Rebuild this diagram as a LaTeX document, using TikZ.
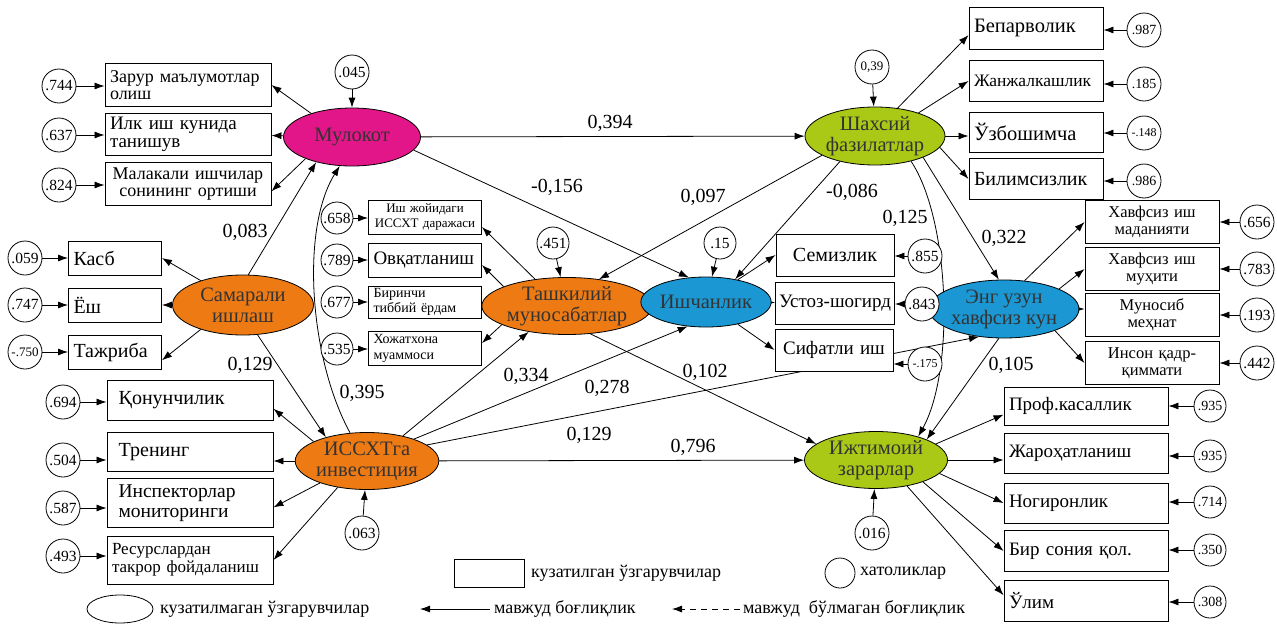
\documentclass[tikz,border=0pt]{standalone}
\usepackage{fontspec}
\setmainfont{Liberation Serif}
\usetikzlibrary{arrows.meta,shapes.geometric,backgrounds}

\definecolor{colMul}{RGB}{226,22,136}
\definecolor{colOrg}{RGB}{238,122,20}
\definecolor{colBlu}{RGB}{27,152,212}
\definecolor{colGrn}{RGB}{170,200,22}

\tikzset{
  lat/.style={ellipse, draw, line width=0.8pt, inner sep=0pt, align=center, text=black!80, font=\fontsize{20.5}{21}\selectfont},
  obs/.style={rectangle, draw, line width=0.9pt, fill=white, inner xsep=5pt, inner ysep=1pt, align=left, font=\fontsize{19}{19}\selectfont},
  err/.style={circle, draw, line width=0.8pt, fill=white, minimum size=34pt, inner sep=0pt, font=\fontsize{15.5}{15.5}\selectfont},
  arw/.style={-{Latex[length=10pt,width=7pt]}, line width=0.8pt},
  coef/.style={inner sep=0pt, font=\fontsize{20}{20}\selectfont},
  legtxt/.style={anchor=west, inner sep=0pt, font=\fontsize{18}{18}\selectfont}
}

\begin{document}
\begin{tikzpicture}[x=1pt,y=-1pt]
\useasboundingbox (0,0) rectangle (1277,624);

% latent variables
\node[lat, fill=colMul, minimum width=137pt, minimum height=58pt] (mul) at (352,137) {Мулокот};
\node[lat, fill=colOrg, minimum width=141pt, minimum height=60pt] (sam) at (243,305) {Самарали\\ишлаш};
\node[lat, fill=colOrg, minimum width=141pt, minimum height=57pt] (iss) at (367,461) {ИССХТга\\инвестиция};
\node[lat, fill=colOrg, minimum width=149pt, minimum height=57pt] (task) at (567,306) {Ташкилий\\муносабатлар};
\node[lat, fill=colBlu, minimum width=114pt, minimum height=50pt] (ish) at (706,302) {Ишчанлик};
\node[lat, fill=colGrn, minimum width=140pt, minimum height=58pt] (shah) at (875,136) {Шахсий\\фазилатлар};
\node[lat, fill=colBlu, minimum width=134pt, minimum height=58pt] (eng) at (1004,309) {Энг узун\\хавфсиз кун};
\node[lat, fill=colGrn, minimum width=143pt, minimum height=57pt] (izh) at (876,460) {Ижтимоий\\зарарлар};

% observed: Мулокот
\node[obs, text width=156pt, minimum height=43pt, font=\fontsize{18}{17.5}\selectfont] (zar) at (188,85) {Зарур маълумотлар\\олиш};
\node[obs, text width=156pt, minimum height=42pt, font=\fontsize{19}{18}\selectfont] (ilk) at (188,134) {Илк иш кунида\\танишув};
\node[obs, text width=156pt, minimum height=43pt, align=center, font=\fontsize{18}{17.5}\selectfont] (mal) at (188,184) {Малакали ишчилар\\сонининг ортиши};
% observed: Самарали ишлаш
\node[obs, text width=83pt, minimum height=34pt, font=\fontsize{20}{20}\selectfont] (kasb) at (115,258) {Касб};
\node[obs, text width=83pt, minimum height=34pt, font=\fontsize{20}{20}\selectfont] (yosh) at (115,305) {Ёш};
\node[obs, text width=83pt, minimum height=34pt, font=\fontsize{20}{20}\selectfont] (taj) at (115,352) {Тажриба};
% observed: ИССХТга инвестиция
\node[obs, text width=156pt, minimum height=40pt, font=\fontsize{20}{20}\selectfont] (kon) at (190,400) {\ Қонунчилик};
\node[obs, text width=156pt, minimum height=39pt, font=\fontsize{20}{20}\selectfont] (trn) at (190,452) {\ Тренинг};
\node[obs, text width=156pt, minimum height=49pt, font=\fontsize{19.5}{20}\selectfont] (insp) at (190,503) {\ Инспекторлар\\\ мониторинги};
\node[obs, text width=156pt, minimum height=48pt, font=\fontsize{17}{18}\selectfont] (res) at (190,560) {Ресурслардан\\такрор фойдаланиш};
% observed: Ташкилий муносабатлар
\node[obs, text width=103pt, minimum height=34pt, align=center, font=\fontsize{13}{15}\selectfont] (ishj) at (425,217) {Иш жойидаги\\ИССХТ даражаси};
\node[obs, text width=103pt, minimum height=34pt] (ovq) at (425,260) {Овқатланиш};
\node[obs, text width=103pt, minimum height=32pt, font=\fontsize{14}{15}\selectfont] (bir) at (425,302) {Биринчи\\тиббий ёрдам};
\node[obs, text width=103pt, minimum height=34pt, font=\fontsize{14}{16}\selectfont] (hoj) at (425,348) {Хожатхона\\муаммоси};
% observed: Ишчанлик
\node[obs, text width=108pt, minimum height=42pt, align=center, font=\fontsize{20}{20}\selectfont] (sem) at (835,255) {Семизлик};
\node[obs, minimum width=119pt, minimum height=42pt, inner xsep=2pt] (ust) at (835,303) {Устоз-шогирд};
\node[obs, text width=108pt, minimum height=42pt, align=center] (sif) at (834,350) {Сифатли иш};
% observed: Шахсий фазилатлар
\node[obs, text width=124pt, minimum height=42pt, font=\fontsize{20.5}{20}\selectfont] (bep) at (1036,28) {Бепарволик};
\node[obs, text width=124pt, minimum height=41pt, font=\fontsize{17.5}{17}\selectfont] (jan) at (1036,81) {Жанжалкашлик};
\node[obs, text width=124pt, minimum height=40pt, font=\fontsize{20.5}{20}\selectfont] (uzb) at (1036,132) {Ўзбошимча};
\node[obs, text width=124pt, minimum height=41pt, font=\fontsize{20}{20}\selectfont] (bil) at (1036,179) {Билимсизлик};
% observed: Энг узун хавфсиз кун
\node[obs, text width=124pt, minimum height=43pt, align=center, font=\fontsize{16.5}{17}\selectfont] (mad) at (1152,222) {Хавфсиз иш\\маданияти};
\node[obs, text width=124pt, minimum height=43pt, align=center, font=\fontsize{16.5}{17}\selectfont] (muh) at (1152,269) {Хавфсиз иш\\муҳити};
\node[obs, text width=124pt, minimum height=43pt, align=center, font=\fontsize{16.5}{17}\selectfont] (mun) at (1152,315) {Муносиб\\меҳнат};
\node[obs, text width=124pt, minimum height=43pt, align=center, font=\fontsize{16.5}{17}\selectfont] (ins) at (1152,363) {Инсон қадр-\\қиммати};
% observed: Ижтимоий зарарлар
\node[obs, text width=154pt, minimum height=38pt] (prof) at (1086,406) {Проф.касаллик};
\node[obs, text width=154pt, minimum height=40pt] (jar) at (1086,453) {Жароҳатланиш};
\node[obs, text width=154pt, minimum height=40pt] (nog) at (1086,503) {Ногиронлик};
\node[obs, text width=154pt, minimum height=41pt] (sony) at (1086,551) {Бир сония қол.};
\node[obs, text width=154pt, minimum height=41pt] (ulim) at (1086,601) {Ўлим};

% errors
\node[err] (emul) at (352,72) {.045};
\node[err] (ezar) at (59,86) {.744};
\node[err] (eilk) at (59,135) {.637};
\node[err] (emal) at (59,185) {.824};
\node[err] (ekasb) at (25,258) {.059};
\node[err] (eyosh) at (25,305) {.747};
\node[err, font=\fontsize{13}{13}\selectfont] (etaj) at (25,352) {-.750};
\node[err] (ekon) at (63,402) {.694};
\node[err] (etrn) at (63,460) {.504};
\node[err] (einsp) at (63,508) {.587};
\node[err] (eres) at (63,556) {.493};
\node[err] (eiss) at (362,533) {.063};
\node[err, minimum size=32pt] (eishj) at (337,218) {.658};
\node[err, minimum size=32pt] (eovq) at (337,260) {.789};
\node[err, minimum size=32pt] (ebir) at (337,302) {.677};
\node[err, minimum size=32pt] (ehoj) at (337,349) {.535};
\node[err, minimum size=32pt] (etask) at (553,243) {.451};
\node[err, minimum size=32pt] (eish) at (720,243) {.15};
\node[err] (esem) at (925,256) {.855};
\node[err] (eust) at (922,304) {.843};
\node[err, font=\fontsize{12}{12}\selectfont] (esif) at (925,364) {-.175};
\node[err, font=\fontsize{13}{13}\selectfont] (eshah) at (872,67) {0,39};
\node[err, font=\fontsize{14}{14}\selectfont] (ebep) at (1144,30) {.987};
\node[err, font=\fontsize{14}{14}\selectfont] (ejan) at (1144,84) {.185};
\node[err, font=\fontsize{12}{12}\selectfont] (euzb) at (1144,133) {-.148};
\node[err, font=\fontsize{14}{14}\selectfont] (ebil) at (1144,181) {.986};
\node[err] (emad) at (1257,222) {.656};
\node[err] (emuh) at (1257,269) {.783};
\node[err] (emun) at (1257,315) {.193};
\node[err] (eins) at (1257,363) {.442};
\node[err, minimum size=32pt, font=\fontsize{14}{14}\selectfont] (eprof) at (1210,406) {.935};
\node[err, minimum size=32pt, font=\fontsize{14}{14}\selectfont] (ejar) at (1210,456) {.935};
\node[err, minimum size=32pt, font=\fontsize{14}{14}\selectfont] (enog) at (1210,502) {.714};
\node[err, minimum size=32pt, font=\fontsize{14}{14}\selectfont] (esony) at (1210,550) {.350};
\node[err, minimum size=32pt, font=\fontsize{14}{14}\selectfont] (eulim) at (1210,602) {.308};
\node[err] (eizh) at (872,533) {.016};

% path coefficients
\node[coef] (c394) at (610,123) {0,394};
\node[coef] (c156) at (557,187) {-0,156};
\node[coef] (c097) at (703,197) {0,097};
\node[coef] (c086) at (852,192) {-0,086};
\node[coef] (c125) at (905,218) {0,125};
\node[coef] (c322) at (1004,238) {0,322};
\node[coef] (c105) at (1011,365) {0,105};
\node[coef] (c083) at (245,232) {0,083};
\node[coef] (c129a) at (250,365) {0,129};
\node[coef] (c395) at (362,393) {0,395};
\node[coef] (c334) at (526,376) {0,334};
\node[coef] (c278) at (607,388) {0,278};
\node[coef] (c102) at (705,372) {0,102};
\node[coef] (c129b) at (589,435) {0,129};
\node[coef] (c796) at (693,447) {0,796};

% legend
\node[ellipse, draw, line width=0.8pt, minimum width=66pt, minimum height=28pt, inner sep=0pt] (legell) at (120,609) {};
\node[legtxt] (legellt) at (160,609) {кузатилмаган ўзгарувчилар};
\node[draw, line width=0.8pt, minimum width=70pt, minimum height=28pt, inner sep=0pt] (legbox) at (489,573) {};
\node[legtxt] (legboxt) at (531,573) {кузатилган ўзгарувчилар};
\node[circle, draw, line width=0.8pt, minimum size=30pt, inner sep=0pt] (legcirc) at (840,573) {};
\node[legtxt] (legcirct) at (860,573) {хатоликлар};
\coordinate (legaA) at (490,609);
\coordinate (legaB) at (420,609);
\node[legtxt] (legat) at (494,609) {мавжуд боғлиқлик};
\coordinate (legdA) at (740,609);
\coordinate (legdB) at (672,609);
\node[legtxt] (legdt) at (743,609) {мавжуд\ \ бўлмаган боғлиқлик};

\begin{pgfonlayer}{background}
% structural paths
\draw[arw] (mul) -- (shah);
\draw[arw] (mul.-12) -- (ish.125);
\draw[arw] (shah.200) -- (task.40);
\draw[arw] (shah.216) -- (ish.38);
\draw[arw] (shah.-24) -- (eng.100);
\draw[arw] (shah.-35) .. controls (950,220) and (955,370) .. (izh.29);
\draw[arw] (eng.-100) -- (izh.22);
\draw[arw] (sam.80) -- (mul.215);
\draw[arw] (iss.121) .. controls (310,360) and (300,230) .. (mul.247);
\draw[arw] (sam.-64) -- (iss.150);
\draw[arw] (iss.35) -- (task.214);
\draw[arw] (iss.25) -- (ish.233);
\draw[arw] (iss.15) -- (eng.228);
\draw[arw] (task.-50) -- (izh.165);
\draw[arw] (iss) -- (izh);
\draw[arw] (task) -- (ish);
% measurement paths
\draw[arw] (mul.150) -- (zar.east);
\draw[arw] (mul) -- (ilk);
\draw[arw] (mul.205) -- (mal.-5);
\draw[arw] (sam.150) -- (kasb.east);
\draw[arw] (sam) -- (yosh);
\draw[arw] (sam.210) -- (taj.-10);
\draw[arw] (iss.160) -- (kon.-6);
\draw[arw] (iss) -- (iss -| trn.east);
\draw[arw] (iss.205) -- (insp.-3);
\draw[arw] (iss.222) -- (res.east);
\draw[arw] (task.140) -- (ishj.-10);
\draw[arw] (task.163) -- (ovq.-5);
\draw[arw] (task) -- (task -| bir.east);
\draw[arw] (task.196) -- (hoj.5);
\draw[arw] (ish.35) -- (sem.west);
\draw[arw] (ish) -- (ust);
\draw[arw] (ish.-35) -- (sif.west);
\draw[arw] (shah.51) -- (bep.186);
\draw[arw] (shah.28) -- (jan.west);
\draw[arw] (shah) -- (shah -| uzb.west);
\draw[arw] (shah.-10) -- (bil.west);
\draw[arw] (eng.54) -- (mad.west);
\draw[arw] (eng.20) -- (muh.west);
\draw[arw] (eng) -- (eng -| mun.west);
\draw[arw] (eng.-23) -- (ins.west);
\draw[arw] (izh.15) -- (prof.186);
\draw[arw] (izh) -- (izh -| jar.west);
\draw[arw] (izh.-12) -- (nog.west);
\draw[arw] (izh.-25) -- (sony.west);
\draw[arw] (izh.-40) -- (ulim.176);
% error terms
\foreach \e/\b in {ezar/zar, eilk/ilk, emal/mal, ekasb/kasb, eyosh/yosh, etaj/taj, ekon/kon, etrn/trn, einsp/insp, eres/res, eishj/ishj, eovq/ovq, ebir/bir, ehoj/hoj}
  \draw[arw] (\e) -- (\e -| \b.west);
\foreach \e/\b in {esem/sem, eust/ust, esif/sif, ebep/bep, ejan/jan, euzb/uzb, ebil/bil, emad/mad, emuh/muh, emun/mun, eins/ins, eprof/prof, ejar/jar, enog/nog, esony/sony, eulim/ulim}
  \draw[arw] (\e) -- (\e -| \b.east);
\foreach \e/\b in {emul/mul, etask/task, eish/ish, eshah/shah, eiss/iss, eizh/izh}
  \draw[arw] (\e) -- (\b);
% legend arrows
\draw[arw] (legaA) -- (legaB);
\draw[arw, dash pattern=on 6pt off 5pt] (legdA) -- (legdB);
\end{pgfonlayer}
\end{tikzpicture}
\end{document}
